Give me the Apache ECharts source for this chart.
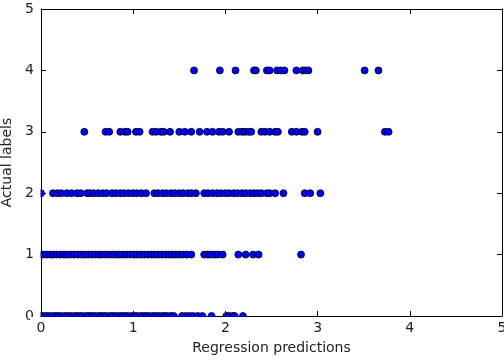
<!DOCTYPE html>
<html><head><meta charset="utf-8">
<script src="https://cdn.jsdelivr.net/npm/echarts@6/dist/echarts.min.js"></script>
<style>html,body{margin:0;padding:0;background:#fff}#c{width:504px;height:362px}</style>
</head><body><div id="c"></div>
<script>
const xTicks = [0, 1, 2, 3, 4, 5];
const yTicks = [0, 1, 2, 3, 4, 5];
const row0 = [0.00,0.03,0.06,0.09,0.13,0.16,0.19,0.22,0.26,0.29,0.32,0.36,0.39,0.42,0.45,0.49,0.52,0.55,0.58,0.62,0.65,0.68,0.71,0.75,0.78,0.81,0.85,0.88,0.91,0.94,0.98,1.01,1.04,1.08,1.11,1.14,1.17,1.21,1.24,1.27,1.31,1.34,1.37,1.41,1.44,1.53,1.57,1.61,1.65,1.70,1.75,1.85,2.01,2.04,2.08,2.10,2.19];
const row1 = [0.02,0.06,0.10,0.13,0.17,0.21,0.25,0.28,0.32,0.36,0.40,0.44,0.47,0.51,0.55,0.59,0.63,0.66,0.70,0.74,0.78,0.82,0.85,0.89,0.93,0.97,1.01,1.04,1.08,1.12,1.16,1.20,1.23,1.27,1.31,1.35,1.39,1.42,1.46,1.50,1.54,1.58,1.63,1.77,1.81,1.84,1.88,1.92,1.97,2.14,2.22,2.30,2.36,2.82];
const row2 = [0.00,0.13,0.18,0.22,0.28,0.33,0.39,0.43,0.50,0.53,0.57,0.62,0.67,0.71,0.77,0.81,0.86,0.90,0.95,1.00,1.04,1.09,1.14,1.23,1.27,1.32,1.36,1.41,1.45,1.50,1.54,1.59,1.63,1.68,1.77,1.81,1.86,1.91,1.95,2.00,2.04,2.09,2.13,2.18,2.22,2.27,2.31,2.35,2.39,2.45,2.48,2.54,2.63,2.86,2.92,3.03];
const row3 = [0.47,0.70,0.74,0.86,0.91,0.94,1.03,1.07,1.21,1.25,1.30,1.33,1.40,1.50,1.56,1.63,1.72,1.80,1.86,1.93,1.97,2.04,2.14,2.18,2.21,2.25,2.28,2.39,2.43,2.48,2.54,2.57,2.72,2.77,2.83,2.86,3.00,3.73,3.77];
const row4 = [1.66,1.94,2.11,2.31,2.33,2.45,2.48,2.56,2.60,2.64,2.77,2.84,2.87,2.90,3.51,3.66];
const rows = [row0, row1, row2, row3, row4];
const labels = [0, 1, 2, 3, 4];

const data = [];
rows.forEach((r, i) => r.forEach(x => data.push([x, labels[i]])));

const font = 'DejaVu Sans';
const axisBase = {
  min: 0, max: 5, interval: 1,
  splitLine: {show: false},
  axisLine: {show: true, onZero: false, lineStyle: {color: '#000', width: 1}},
  axisTick: {show: true, inside: true, length: 5, lineStyle: {color: '#000'}},
};
const chart = echarts.init(document.getElementById('c'));
chart.setOption({
  animation: false,
  grid: {left: 41, right: 2, top: 9, bottom: 46, show: false, containLabel: false, outerBoundsMode: 'none'},
  xAxis: [
    Object.assign({}, axisBase, {type: 'value', position: 'bottom',
      name: 'Regression predictions', nameLocation: 'middle', nameGap: 25,
      nameTextStyle: {fontFamily: font, fontSize: 14, color: '#222'},
      axisLabel: {fontFamily: font, fontSize: 14, color: '#222', margin: 5,
        formatter: v => xTicks.includes(v) ? String(v) : ''}}),
    Object.assign({}, axisBase, {type: 'value', position: 'top', axisLabel: {show: false}})
  ],
  yAxis: [
    Object.assign({}, axisBase, {type: 'value', position: 'left',
      name: 'Actual labels', nameLocation: 'middle', nameGap: 23, nameRotate: 90,
      nameTextStyle: {fontFamily: font, fontSize: 14, color: '#222'},
      axisLabel: {fontFamily: font, fontSize: 14, color: '#222', margin: 7,
        formatter: v => yTicks.includes(v) ? String(v) : ''}}),
    Object.assign({}, axisBase, {type: 'value', position: 'right', axisLabel: {show: false}})
  ],
  graphic: [
    {type: 'rect', z: 100, silent: true, shape: {x: 30, y: 317, width: 480, height: 4.5}, style: {fill: '#fff'}},
    {type: 'rect', z: 100, silent: true, shape: {x: 36, y: 4, width: 4.5, height: 318}, style: {fill: '#fff'}}
  ],
  series: [{
    type: 'scatter',
    xAxisIndex: 0, yAxisIndex: 0,
    symbolSize: 7,
    data: data,
    itemStyle: {color: '#0000ff', borderColor: '#000', borderWidth: 0.8, opacity: 1}
  }]
});
</script>
</body></html>
